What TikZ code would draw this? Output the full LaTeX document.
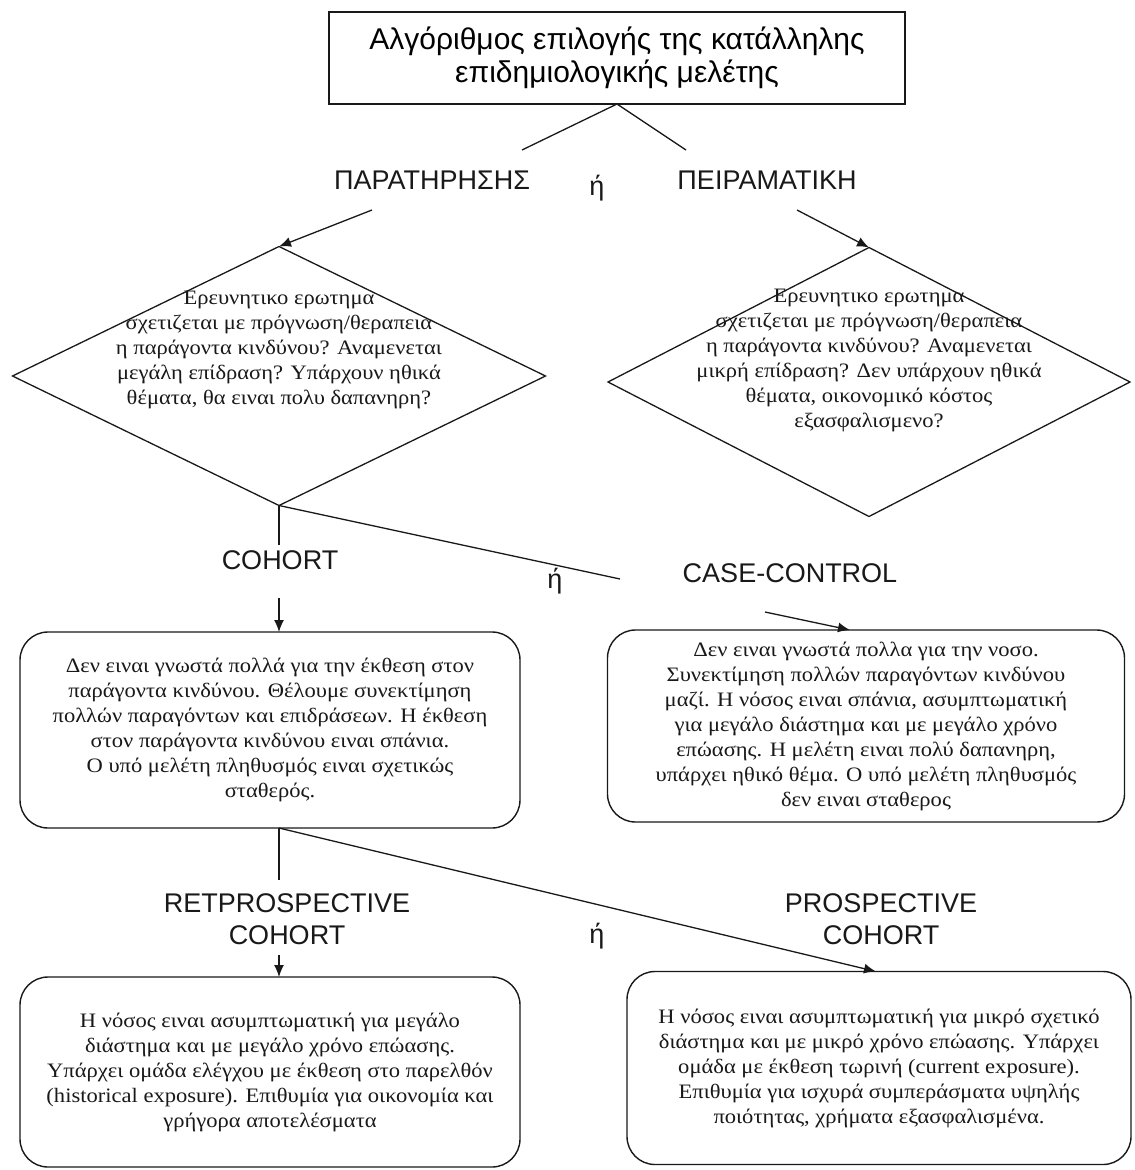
\documentclass[tikz,border=0pt]{standalone}
\usepackage{fontspec}
\setmainfont[FakeStretch=1.1]{Liberation Serif}
\newfontfamily\labfont{Liberation Sans}
\newfontfamily\titlefont{Liberation Sans}
\usetikzlibrary{shapes.geometric,arrows.meta}
\begin{document}
\begin{tikzpicture}[x=1pt,y=-1pt,
  line/.style={line width=1.3pt, draw=black!90},
  arr/.style={line, -{Latex[length=12pt,width=10pt]}},
  tag/.style={font=\labfont\fontsize{27}{32}\selectfont, inner sep=0pt, align=center, text=black!90},
  body/.style={font=\fontsize{20.5}{25}\selectfont, align=center, inner sep=0pt, text=black!90},
  decision/.style={diamond, draw=black!90, line width=1.3pt, inner sep=0pt, outer sep=0pt},
  roundbox/.style={draw=black!90, line width=1.4pt, rounded corners=28pt, align=center,
    inner sep=0pt, outer sep=0pt, font=\fontsize{20.5}{25}\selectfont, text=black!90},
]
\useasboundingbox[fill=white] (0,0) rectangle (1135,1170);

% title
\node[draw=black!90, line width=2.2pt, minimum width=576pt, minimum height=92pt, align=center,
      inner sep=0pt, outer sep=0pt, font=\titlefont\fontsize{30}{33}\selectfont] (title) at (617,58)
  {Αλγόριθμος επιλογής της κατάλληλης\\επιδημιολογικής μελέτης};

% first choice
\node[tag] (obs) at (432,180) {ΠΑΡΑΤΗΡΗΣΗΣ};
\node[tag] (or1) at (597,188) {ή};
\node[tag] (expm) at (767,180) {ΠΕΙΡΑΜΑΤΙΚΗ};
\coordinate (tA) at (522,150);
\coordinate (tB) at (686,150);
\draw[line] (title.south) -- (tA);
\draw[line] (title.south) -- (tB);

% decisions
\node[decision, minimum width=533pt, minimum height=259pt] (d1) at (279,376) {};
\node[body] (d1t) at (279,350) {Ερευνητικο ερωτημα\\σχετιζεται με πρόγνωση/θεραπεια\\η παράγοντα κινδύνου? Αναμενεται\\μεγάλη επίδραση? Υπάρχουν ηθικά\\θέματα, θα ειναι πολυ δαπανηρη?};
\node[decision, minimum width=522pt, minimum height=269pt] (d2) at (869,382) {};
\node[body] (d2t) at (869,360) {Ερευνητικο ερωτημα\\σχετιζεται με πρόγνωση/θεραπεια\\η παράγοντα κινδύνου? Αναμενεται\\μικρή επίδραση? Δεν υπάρχουν ηθικά\\θέματα, οικονομικό κόστος\\εξασφαλισμενο?};
\coordinate (sA) at (372,210);
\coordinate (sB) at (797,210);
\draw[arr] (sA) -- (d1.north);
\draw[arr] (sB) -- (d2.north);

% second choice
\node[tag] (coh) at (280,560) {COHORT};
\node[tag] (or2) at (555,581) {ή};
\node[tag] (cc) at (790,573) {CASE-CONTROL};
\coordinate (vA) at (279,545);
\coordinate (vB) at (620,579);
\draw[line] (d1.south) -- (vA);
\draw[line] (d1.south) -- (vB);

% study boxes
\node[roundbox, minimum width=500pt, minimum height=196pt] (b1) at (270,730)
  {Δεν ειναι γνωστά πολλά για την έκθεση στον\\παράγοντα κινδύνου. Θέλουμε συνεκτίμηση\\πολλών παραγόντων και επιδράσεων. Η έκθεση\\στον παράγοντα κινδύνου ειναι σπάνια.\\Ο υπό μελέτη πληθυσμός ειναι σχετικώς\\σταθερός.};
\node[roundbox, minimum width=517pt, minimum height=192pt] (b2) at (866,726)
  {Δεν ειναι γνωστά πολλα για την νοσο.\\Συνεκτίμηση πολλών παραγόντων κινδύνου\\μαζί. Η νόσος ειναι σπάνια, ασυμπτωματική\\για μεγάλο διάστημα και με μεγάλο χρόνο\\επώασης. Η μελέτη ειναι πολύ δαπανηρη,\\υπάρχει ηθικό θέμα. Ο υπό μελέτη πληθυσμός\\δεν ειναι σταθερος};
\coordinate (aA) at (279,598);
\coordinate (aB) at (765,612);
\coordinate (aBx) at (850,0);
\draw[arr] (aA) -- (aA |- b1.north);
\draw[arr] (aB) -- (b2.north -| aBx);

% third choice
\node[tag] (retro) at (287,919) {RETPROSPECTIVE\\COHORT};
\node[tag] (or3) at (597,936) {ή};
\node[tag] (pro) at (881,919) {PROSPECTIVE\\COHORT};
\coordinate (vC) at (279,880);
\coordinate (bx) at (876,0);
\draw[line] (vC |- b1.south) -- (vC);

% cohort boxes
\node[roundbox, minimum width=500pt, minimum height=190pt] (b3) at (270,1072)
  {Η νόσος ειναι ασυμπτωματική για μεγάλο\\διάστημα και με μεγάλο χρόνο επώασης.\\Υπάρχει ομάδα ελέγχου με έκθεση στο παρελθόν\\(historical exposure). Επιθυμία για οικονομία και\\γρήγορα αποτελέσματα};
\node[roundbox, minimum width=504pt, minimum height=193pt] (b4) at (879,1068)
  {Η νόσος ειναι ασυμπτωματική για μικρό σχετικό\\διάστημα και με μικρό χρόνο επώασης. Υπάρχει\\ομάδα με έκθεση τωρινή (current exposure).\\Επιθυμία για ισχυρά συμπεράσματα υψηλής\\ποιότητας, χρήματα εξασφαλισμένα.};
\coordinate (aC) at (279,955);
\draw[arr] (aC) -- (aC |- b3.north);
\draw[arr] (vC |- b1.south) -- (b4.north -| bx);
\end{tikzpicture}
\end{document}
